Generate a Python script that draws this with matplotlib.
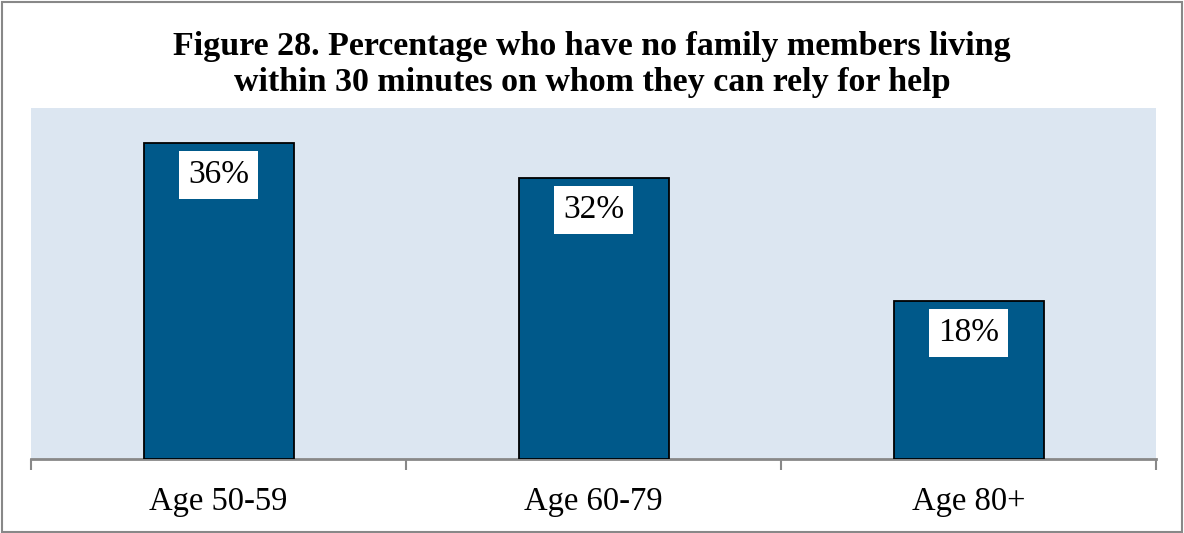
import matplotlib
matplotlib.use("Agg")
import matplotlib.pyplot as plt
from matplotlib.patches import Rectangle

categories = ["Age 50-59", "Age 60-79", "Age 80+"]
values = [36, 32, 18]
labels = ["36%", "32%", "18%"]
title_lines = ["Figure 28. Percentage who have no family members living",
               "within 30 minutes on whom they can rely for help"]

W, H = 1184, 533
fig = plt.figure(figsize=(W/100, H/100), dpi=100)
serif = ["Liberation Serif", "DejaVu Serif"]

ax = fig.add_axes([31/W, 1-459/H, (1156-31)/W, (459-108)/H])
ax.set_facecolor("#DCE6F1")
x = list(range(len(categories)))
ax.bar(x, values, width=0.4, color="#00598A", edgecolor="black", linewidth=1.3, zorder=3)
ax.set_xlim(-0.5, 2.5)
ax.set_ylim(0, 40)
for xi, v, lab in zip(x, values, labels):
    ax.annotate(lab, (xi, v), xytext=(0, -23), textcoords="offset points",
                ha="center", va="center", fontsize=24, family=serif, color="black",
                bbox=dict(boxstyle="square,pad=0.26", fc="white", ec="none"), zorder=5)
for s in ["top", "right", "left"]:
    ax.spines[s].set_visible(False)
ax.spines["bottom"].set_color("#888888")
ax.spines["bottom"].set_linewidth(2)
ax.set_yticks([])
ax.set_xticks([-0.5, 0.5, 1.5, 2.5])
ax.set_xticklabels([])
ax.set_xticks(x, minor=True)
ax.set_xticklabels(categories, minor=True, fontsize=23.5, family=serif)
ax.tick_params(axis="x", which="major", length=8, width=1.5, color="#888888", direction="out")
ax.tick_params(axis="x", which="minor", length=0, pad=20)

for ypx, line in zip([46, 82], title_lines):
    fig.text(0.5, 1-ypx/H, line, ha="center", va="center", fontsize=24.5,
             fontweight="bold", family=serif)

fig.patches.append(Rectangle((2/W, 1/H), (W-4)/W, (H-3)/H, transform=fig.transFigure,
                             fill=False, ec="#888888", lw=1.5))
fig.savefig("out.png", dpi=100)
